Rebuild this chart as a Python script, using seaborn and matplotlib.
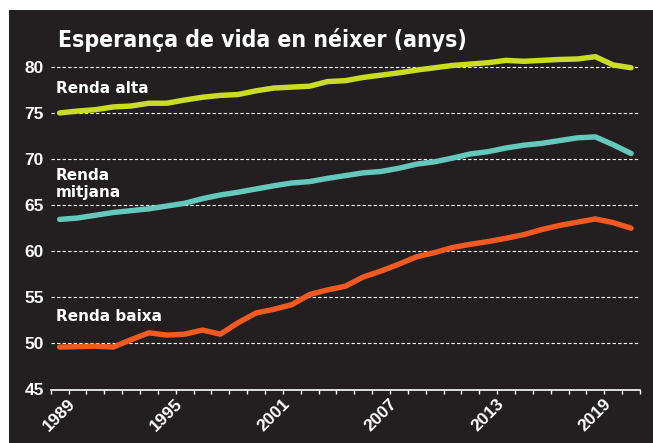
import matplotlib
matplotlib.use("Agg")

import numpy as np
import pandas as pd
import seaborn as sns
import matplotlib.pyplot as plt
from matplotlib.patches import Rectangle
from matplotlib.ticker import FixedLocator

# Life expectancy at birth (years), 1989-2021
years = list(range(1989, 2022))
renda_alta = [75.0, 75.2, 75.35, 75.65, 75.75, 76.05, 76.05, 76.4, 76.7, 76.9, 77.0,
              77.4, 77.7, 77.8, 77.9, 78.4, 78.5, 78.85, 79.1, 79.35, 79.65, 79.9,
              80.15, 80.3, 80.45, 80.7, 80.6, 80.7, 80.8, 80.85, 81.1, 80.2, 79.9]
renda_mitjana = [63.45, 63.6, 63.9, 64.2, 64.4, 64.6, 64.9, 65.2, 65.7, 66.1, 66.4,
                 66.75, 67.1, 67.4, 67.55, 67.9, 68.2, 68.5, 68.65, 69.0, 69.45, 69.7,
                 70.1, 70.55, 70.8, 71.2, 71.5, 71.7, 72.0, 72.3, 72.4, 71.55, 70.6]
renda_baixa = [49.6, 49.65, 49.7, 49.6, 50.4, 51.15, 50.9, 51.0, 51.45, 51.0, 52.25,
               53.3, 53.7, 54.2, 55.3, 55.8, 56.2, 57.2, 57.85, 58.6, 59.4, 59.85,
               60.4, 60.75, 61.05, 61.4, 61.8, 62.35, 62.8, 63.15, 63.5, 63.1, 62.5]
tick_years = [1989, 1995, 2001, 2007, 2013, 2019]

df = pd.DataFrame({"any": years * 3,
                   "valor": renda_alta + renda_mitjana + renda_baixa,
                   "grup": ["alta"] * 33 + ["mitjana"] * 33 + ["baixa"] * 33})
colors = {"alta": "#c9dc26", "mitjana": "#64c8bc", "baixa": "#f25a22"}
bg = "#231f20"

fig = plt.figure(figsize=(6.53, 4.43), dpi=100)
fig.patch.set_facecolor("white")
fig.patches.append(Rectangle((9 / 653, 0), 1 - 9 / 653, 1 - 10 / 443,
                             transform=fig.transFigure, facecolor=bg,
                             edgecolor="none", zorder=-10))
ax = fig.add_axes([50.7 / 653, 1 - 389.5 / 443, (640 - 50.7) / 653, 0.77])
ax.set_facecolor("none")

sns.lineplot(data=df, x="any", y="valor", hue="grup", palette=colors,
             linewidth=3.9, legend=False, ax=ax, solid_capstyle="round")

ax.set_xlim(1988.5, 2021.5)
ax.set_ylim(45, 82)
ax.set_xlabel("")
ax.set_ylabel("")

# dashed grid
ax.set_yticks([45, 50, 55, 60, 65, 70, 75, 80])
for v in [50, 55, 60, 65, 70, 75, 80]:
    ax.axhline(v, color="white", linewidth=0.8, linestyle=(0, (3, 2)), zorder=0.5)
ax.tick_params(axis="y", length=0, pad=5, labelcolor="white", labelsize=12.5)

ax.set_xticks(tick_years)
ax.set_xticklabels([str(y) for y in tick_years], rotation=45, ha="center")
ax.xaxis.set_minor_locator(FixedLocator(np.arange(1988.5, 2022, 1)))
ax.tick_params(axis="x", which="major", length=0, pad=5, labelcolor="white", labelsize=12.5)
ax.tick_params(axis="x", which="minor", length=3, width=1, color="white", direction="out")
for lab in ax.get_xticklabels() + ax.get_yticklabels():
    lab.set_fontfamily("Liberation Sans")
    lab.set_fontweight("bold")

for s in ["top", "right", "left"]:
    ax.spines[s].set_visible(False)
ax.spines["bottom"].set_color("white")
ax.spines["bottom"].set_linewidth(1.2)

lab_kw = dict(color="white", fontsize=11, fontweight="bold", family="DejaVu Sans",
              va="center", ha="left")
ax.text(1988.8, 77.7, "Renda alta", **lab_kw)
ax.text(1988.8, 67.3, "Renda\nmitjana", linespacing=1.1, **lab_kw)
ax.text(1988.8, 52.9, "Renda baixa", **lab_kw)

fig.text(58 / 653, 1 - 47 / 443, "Esperança de vida en néixer (anys)", color="white",
         fontsize=16.5, fontweight="bold", family="DejaVu Sans", fontstretch="condensed",
         va="baseline")

fig.savefig("out.png", dpi=100, facecolor=fig.get_facecolor())
